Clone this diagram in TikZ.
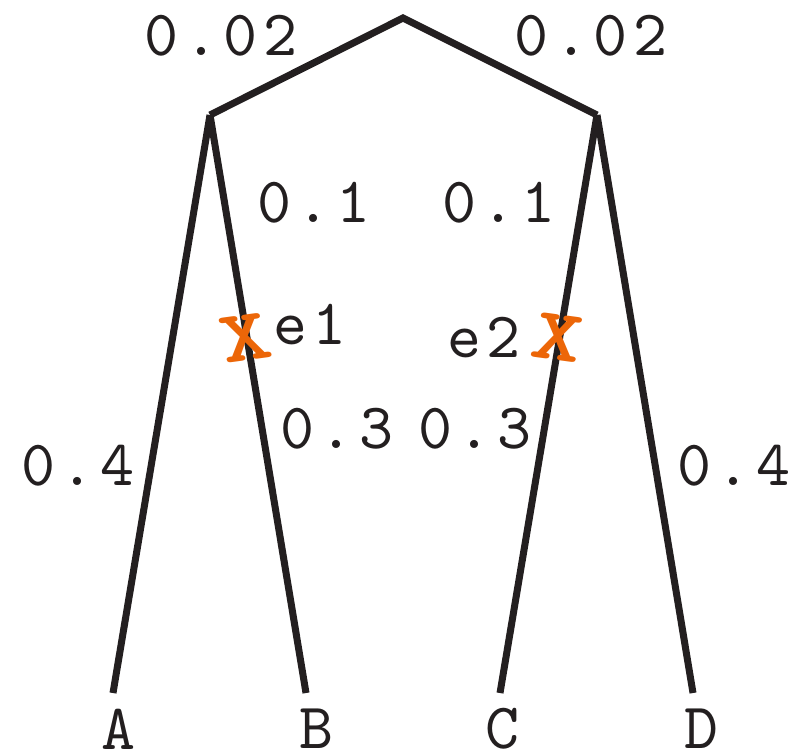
\documentclass[tikz,border=0pt]{standalone}
\usepackage{fontspec}
\setmonofont{lmmono10-regular.otf}[LetterSpace=9, BoldFont=lmmonolt10-bold.otf]
\usetikzlibrary{positioning}
\definecolor{branch}{RGB}{35,31,32}
\definecolor{xorange}{RGB}{236,102,8}

\begin{document}
\begin{tikzpicture}[
    x=1bp, y=-1bp,
    every node/.style={font=\ttfamily\fontsize{65}{70}\selectfont, text=branch, inner sep=0pt},
    len/.style={},
    leaf/.style={},
    cut/.style={font=\ttfamily\bfseries\fontsize{74}{78}\selectfont, text=xorange, xscale=1.3},
    branchline/.style={line width=7bp, draw=branch}
]
\useasboundingbox (0,0) rectangle (796,755);

\coordinate (root) at (403,18);
\coordinate (left) at (210,115);
\coordinate (right) at (597,115);

\coordinate (tipA) at (113,693);
\coordinate (tipB) at (306,693);
\coordinate (tipC) at (500,693);
\coordinate (tipD) at (693,693);

\node[leaf] (A) at (118,729) {A};
\node[leaf] (B) at (316,729) {B};
\node[leaf] (C) at (502,729) {C};
\node[leaf] (D) at (701,729) {D};

\draw[branchline, line join=miter] (left) -- (root) -- (right);
\draw[branchline] (left) -- (tipA);
\draw[branchline] (left) -- (tipB);
\draw[branchline] (right) -- (tipC);
\draw[branchline] (right) -- (tipD);

\node[len] (l02) at (221,36) {0.02};
\node[len] (r02) at (591,36) {0.02};
\node[len] (l01) at (314,203) {0.1};
\node[len] (r01) at (499,203) {0.1};
\node[len] (l03) at (337,429) {0.3};
\node[len] (r03) at (475,429) {0.3};
\node[len] (l04) at (78,466) {0.4};
\node[len] (r04) at (734,466) {0.4};

\node[cut, rotate=10] (x1) at (245,338) {X};
\node[cut, rotate=-10] (x2) at (558,338) {X};
\node[len] (e1) at (310,325) {e1};
\node[len] (e2) at (484,338) {e2};

\end{tikzpicture}
\end{document}
